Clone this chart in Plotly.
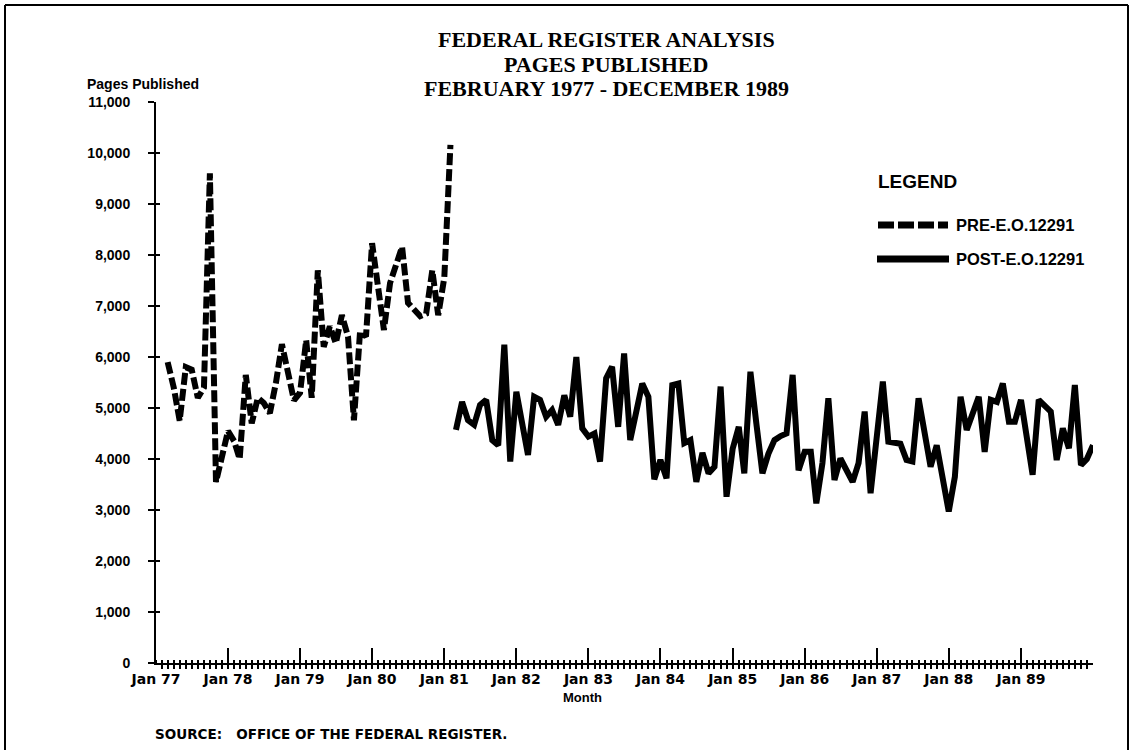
import pandas as pd
import plotly.graph_objects as go

# ---------------- data ----------------
pre_start, pre_end = "1977-02", "1981-01"
pre_pages = [5900, 5400, 4750, 5800, 5750, 5200, 5400, 9600, 3550, 4100, 4550, 4350,
             4000, 5650, 4700, 5200, 5100, 4900, 5500, 6250, 5700, 5150, 5300, 6330,
             5200, 7700, 6200, 6600, 6270, 6820, 6400, 4760, 6500, 6400, 8230, 7300,
             6530, 7450, 7800, 8160, 7060, 6920, 6800, 6850, 7700, 6820, 7560, 10160]

post_start, post_end = "1981-02", "1989-12"
post_pages = [4570, 5120, 4760, 4670, 5060, 5160, 4370, 4270, 6240, 3950, 5320, 4600,
              4080, 5220, 5160, 4830, 4960, 4670, 5250, 4830, 6000, 4600, 4440, 4500,
              3950, 5580, 5810, 4630, 6070, 4370, 4900, 5480, 5220, 3600, 3980, 3620,
              5450, 5480, 4310, 4370, 3550, 4120, 3720, 3850, 5420, 3260, 4200, 4630,
              3720, 5710, 4700, 3720, 4100, 4370, 4450, 4500, 5650, 3780, 4140, 4140,
              3130, 3920, 5190, 3590, 4010, 3800, 3550, 3920, 4930, 3330, 4370, 5520,
              4340, 4310, 4300, 3980, 3950, 5190, 4570, 3850, 4270, 3600, 2970, 3650,
              5220, 4570, 4900, 5220, 4140, 5160, 5120, 5480, 4730, 4730, 5160, 4400,
              3690, 5160, 5050, 4930, 3980, 4600, 4210, 5450, 3880, 4000, 4270]

tick_years = list(range(1977, 1991))
tick_labels = ["Jan %02d" % (y % 100) for y in range(1977, 1990)] + [""]
y_ticks = list(range(0, 11001, 1000))

series_names = ["PRE-E.O.12291", "POST-E.O.12291"]
title_lines = ["FEDERAL REGISTER ANALYSIS", "PAGES PUBLISHED", "FEBRUARY 1977 - DECEMBER 1989"]


def month_end_positions(start, end):
    # each month's total is plotted at the end of that month
    per = pd.period_range(start, end, freq="M")
    return [(p + 1).to_timestamp() for p in per]


pre_x = month_end_positions(pre_start, pre_end)
post_x = month_end_positions(post_start, post_end)

# ---------------- figure ----------------
L, R, T, B = 156, 40, 102, 87
W, H = 1133, 750
pw, ph = W - L - R, H - T - B


def px(x):
    return (x - L) / pw


def py(y):
    return (H - B - y) / ph


fig = go.Figure()
fig.add_trace(go.Scatter(x=pre_x, y=pre_pages, mode="lines", name=series_names[0],
                         line=dict(color="black", width=6, dash="12px,4px"),
                         showlegend=False))
fig.add_trace(go.Scatter(x=post_x, y=post_pages, mode="lines", name=series_names[1],
                         line=dict(color="black", width=6),
                         showlegend=False))
# helper trace so the overlay axes (crossing minor ticks) are drawn
fig.add_trace(go.Scatter(x=[], y=[], xaxis="x2", yaxis="y2", showlegend=False))

xrange = [pd.Timestamp("1977-01-01"), pd.Timestamp("1990-01-01")]
xtick_font = dict(family="DejaVu Sans", size=14, color="black", weight="bold")
ytick_font = dict(family="Liberation Sans", size=14, color="black", weight="bold")

fig.update_layout(
    width=W, height=H,
    margin=dict(l=L, r=R, t=T, b=B),
    paper_bgcolor="white", plot_bgcolor="white",
    xaxis=dict(type="date", range=xrange,
               tickvals=[pd.Timestamp(f"{y}-01-01") for y in tick_years],
               ticktext=tick_labels, ticks="inside", ticklen=15, tickwidth=2,
               tickcolor="black", showline=True, linecolor="black", linewidth=2,
               showgrid=False, zeroline=False, tickfont=xtick_font, ticklabelstandoff=2,
               minor=dict(ticks="outside", ticklen=4, tickwidth=1.5, tickcolor="black",
                          dtick="M1", tick0="1977-01-01", showgrid=False)),
    xaxis2=dict(type="date", range=xrange, overlaying="x", anchor="y", side="bottom",
                showticklabels=False, ticks="", showline=False, showgrid=False,
                zeroline=False,
                minor=dict(ticks="inside", ticklen=3, tickwidth=1.5, tickcolor="black",
                           dtick="M1", tick0="1977-01-01", showgrid=False)),
    yaxis=dict(range=[0, 11000], tickvals=y_ticks, tickformat=",", ticks="outside",
               ticklen=6, tickwidth=2, tickcolor="black", showline=True,
               linecolor="black", linewidth=2, showgrid=False, zeroline=False,
               tickfont=ytick_font, ticklabelstandoff=15),
    yaxis2=dict(range=[0, 11000], overlaying="y", anchor="x", side="left",
                tickvals=y_ticks, ticks="inside", ticklen=4, tickwidth=2,
                tickcolor="black", showticklabels=False, showline=False,
                showgrid=False, zeroline=False),
    showlegend=False,
)

# title (three lines, tight spacing)
for line, yy in zip(title_lines, [40, 64, 88]):
    fig.add_annotation(text=line, xref="paper", yref="paper", x=px(606), y=py(yy),
                       xanchor="center", yanchor="middle", showarrow=False,
                       font=dict(family="Liberation Serif", size=22, color="black", weight="bold"))

# page frame
frame = dict(color="black", width=2)
fig.add_shape(type="line", xref="paper", yref="paper", x0=px(5), x1=px(1128), y0=py(5), y1=py(5), line=frame)
fig.add_shape(type="line", xref="paper", yref="paper", x0=px(5), x1=px(5), y0=py(5), y1=py(760), line=frame)
fig.add_shape(type="line", xref="paper", yref="paper", x0=px(1128), x1=px(1128), y0=py(5), y1=py(760), line=frame)

# legend block
fig.add_annotation(text="LEGEND", xref="paper", yref="paper", x=px(876), y=py(181),
                   xanchor="left", yanchor="middle", showarrow=False,
                   font=dict(family="Liberation Sans", size=19, color="black", weight="bold"))
fig.add_shape(type="line", xref="paper", yref="paper", x0=px(878), x1=px(948),
              y0=py(225), y1=py(225), line=dict(color="black", width=7, dash="16px,4px"))
fig.add_shape(type="line", xref="paper", yref="paper", x0=px(877), x1=px(949),
              y0=py(259), y1=py(259), line=dict(color="black", width=7))
for name, yy in zip(series_names, [225, 259]):
    fig.add_annotation(text=name, xref="paper", yref="paper", x=px(954), y=py(yy),
                       xanchor="left", yanchor="middle", showarrow=False,
                       font=dict(family="Liberation Sans", size=16.5, color="black", weight="bold"))

# axis captions and source
fig.add_annotation(text="Pages Published", xref="paper", yref="paper", x=px(85), y=py(84),
                   xanchor="left", yanchor="middle", showarrow=False,
                   font=dict(family="Liberation Sans", size=14, color="black", weight="bold"))
fig.add_annotation(text="Month", xref="paper", yref="paper", x=px(582), y=py(697),
                   xanchor="center", yanchor="middle", showarrow=False,
                   font=dict(family="Liberation Sans", size=13, color="black", weight="bold"))
fig.add_annotation(text="SOURCE:\u00a0\u00a0\u00a0OFFICE OF THE FEDERAL REGISTER.", xref="paper", yref="paper",
                   x=px(153), y=py(734), xanchor="left", yanchor="middle", showarrow=False,
                   font=dict(family="DejaVu Sans", size=13.5, color="black", weight="bold"))

fig.write_html("out.html", config={"displayModeBar": False},
               post_script="document.body.style.margin='0';")
